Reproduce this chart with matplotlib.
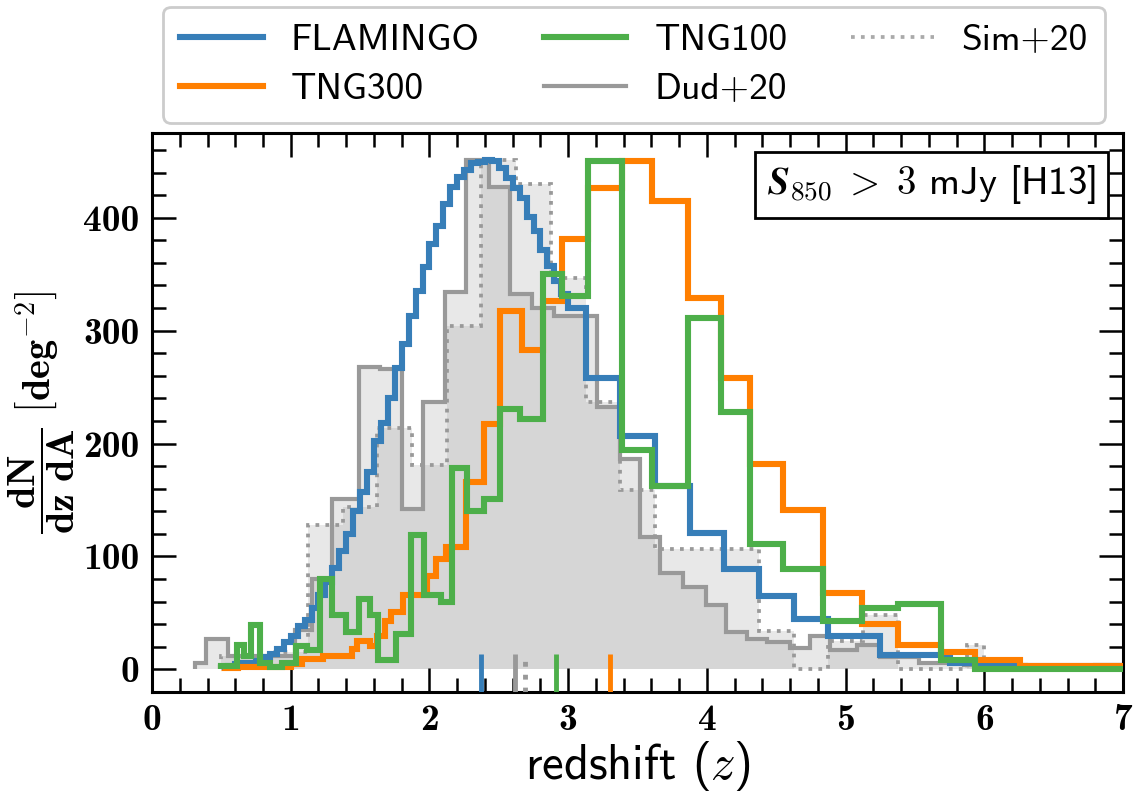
import matplotlib
matplotlib.use("Agg")
import matplotlib.pyplot as plt
from matplotlib.lines import Line2D

plt.rcParams["mathtext.fontset"] = "cm"
plt.rcParams["font.family"] = ["cmss10", "DejaVu Sans"]
plt.rcParams["axes.unicode_minus"] = False

# ---- data (redshift bin edges, dN/dz/dA) ----
flamingo_edges = [0.50, 0.55, 0.60, 0.65, 0.70, 0.75, 0.80, 0.85, 0.90, 0.95,
                  1.00, 1.05, 1.10, 1.15, 1.20, 1.25, 1.30, 1.35, 1.40, 1.45,
                  1.50, 1.55, 1.60, 1.65, 1.70, 1.75, 1.80, 1.85, 1.90, 1.95,
                  2.00, 2.05, 2.10, 2.15, 2.20, 2.25, 2.30, 2.35, 2.40, 2.45,
                  2.50, 2.55, 2.60, 2.65, 2.70, 2.75, 2.80, 2.85, 2.90, 2.95,
                  3.00, 3.125, 3.375, 3.625, 3.875, 4.125, 4.375, 4.625, 4.875,
                  5.25, 5.75, 6.25, 7.00]
flamingo_vals = [2, 3, 5, 6, 6, 7, 11, 14, 18, 24,
                 30, 38, 44, 54, 66, 77, 90, 105, 120, 140,
                 157, 175, 202, 218, 240, 267, 288, 313, 335, 356,
                 377, 393, 412, 427, 436, 442, 448, 449, 451, 450,
                 444, 435, 426, 417, 401, 388, 371, 357, 344, 332,
                 320, 258, 207, 162, 121, 89, 65, 45, 30, 13, 6, 3]

tng300_edges = [0.50, 0.62, 1.00, 1.08, 1.23, 1.44, 1.48, 1.57, 1.62, 1.68,
                1.72, 1.81, 1.98, 2.05, 2.12, 2.26, 2.39, 2.51, 2.665, 2.815,
                2.955, 3.145, 3.385, 3.605, 3.865, 4.10, 4.31, 4.55, 4.84, 5.12,
                5.38, 5.69, 5.93, 6.26, 7.00]
tng300_vals = [1, 2, 5, 9, 12, 18, 25, 21, 30, 43,
               51, 66, 83, 98, 108, 166, 217, 317, 283, 326,
               381, 426, 450, 415, 329, 258, 182, 141, 68, 40,
               22, 15, 8, 3]

tng100_edges = [0.50, 0.61, 0.66, 0.71, 0.78, 0.85, 0.94, 1.04, 1.115, 1.21,
                1.30, 1.40, 1.49, 1.57, 1.63, 1.76, 1.87, 1.96, 2.08, 2.16,
                2.27, 2.39, 2.51, 2.655, 2.815, 2.955, 3.145, 3.385, 3.605, 3.865,
                4.10, 4.31, 4.55, 4.84, 5.12, 5.38, 5.69, 5.93, 7.00]
tng100_vals = [3, 22, 12, 39, 6, 2, 6, 21, 17, 80,
               48, 33, 62, 48, 8, 31, 119, 66, 60, 178,
               140, 151, 231, 222, 350, 331, 450, 194, 162, 311,
               228, 111, 89, 43, 54, 58, 8, 0.5]

dud_edges = [0.31, 0.39, 0.55, 1.03, 1.15, 1.30, 1.49, 1.64, 1.80, 1.95,
             2.11, 2.26, 2.43, 2.58, 2.74, 2.90, 3.21, 3.37, 3.52, 3.66,
             3.83, 3.99, 4.14, 4.29, 4.43, 4.60, 4.74, 4.89, 5.08, 5.25,
             5.53, 5.85, 6.30, 6.80, 7.00]
dud_vals = [6, 27, 12, 35, 80, 151, 268, 266, 142, 237,
            334, 451, 427, 332, 320, 313, 232, 186, 117, 85,
            73, 57, 33, 27, 24, 19, 30, 17, 22, 11,
            6, 4, 2, 4]

sim_edges = [0.50, 0.875, 1.125, 1.375, 1.625, 1.875, 2.125, 2.375, 2.625, 2.875,
             3.125, 3.375, 3.625, 4.375, 4.625, 4.875, 5.125, 5.375, 5.875, 6.00]
sim_vals = [12, 15, 128, 144, 214, 181, 304, 451, 430, 347,
            237, 159, 107, 34, 0, 25, 48, 0, 22]

# medians shown as short ticks at the bottom
medians = {"FLAMINGO": 2.37, "TNG300": 3.30, "TNG100": 2.91, "Dud+20": 2.62, "Sim+20": 2.69}

colors = {"FLAMINGO": "#377eb8", "TNG300": "#ff7f00", "TNG100": "#4daf4a",
          "Dud+20": "#999999", "Sim+20": "#999999"}

fig = plt.figure(figsize=(11.44, 7.94), dpi=100)
ax = fig.add_axes([0.1329, 0.1285, 0.8488, 0.704])

# observations: shaded + outline
ax.stairs(dud_vals, dud_edges, fill=True, color="#999999", alpha=0.22, lw=0, zorder=1)
ax.stairs(sim_vals, sim_edges, fill=True, color="#999999", alpha=0.22, lw=0, zorder=1)
ax.stairs(dud_vals, dud_edges, color=colors["Dud+20"], lw=3.0, zorder=2)
ax.stairs(sim_vals, sim_edges, color=colors["Sim+20"], lw=2.7, ls=":", zorder=2)

# simulations
ax.stairs(flamingo_vals, flamingo_edges, color=colors["FLAMINGO"], lw=4.4, zorder=3)
ax.stairs(tng300_vals, tng300_edges, color=colors["TNG300"], lw=4.4, zorder=4)
ax.stairs(tng100_vals, tng100_edges, color=colors["TNG100"], lw=4.4, zorder=5)

for name, zmed in medians.items():
    ax.vlines(zmed, -20, 14, colors=colors[name], lw=3.5,
              linestyles=":" if name == "Sim+20" else "-", zorder=6)

ax.set_xlim(0, 7)
ax.set_ylim(-20, 475)
ax.set_xticks(range(0, 8))
ax.set_yticks([0, 100, 200, 300, 400])
ax.xaxis.set_minor_locator(matplotlib.ticker.MultipleLocator(0.2))
ax.yaxis.set_minor_locator(matplotlib.ticker.MultipleLocator(20))
ax.tick_params(which="both", direction="in", top=True, right=True, width=1.8)
ax.tick_params(which="major", length=17, pad=9, labelsize=27, labelfontfamily="cmb10")
ax.tick_params(which="minor", length=10)
for sp in ax.spines.values():
    sp.set_linewidth(2.2)

ax.set_xlabel(r"redshift ($z$)", fontsize=35, labelpad=1)
ax.set_ylabel(r"$\dfrac{\mathbf{dN}}{\mathbf{dz\ dA}}\ \left[\mathbf{deg}^{\mathbf{-2}}\right]$",
              fontsize=29)
ax.yaxis.set_label_coords(-0.077, 0.5)

ax.text(0.972, 0.946, r"$\boldsymbol{S}_{\mathbf{850}}\;>\;\mathbf{3}$ mJy [H13]",
        transform=ax.transAxes, ha="right", va="top", fontsize=28, zorder=10,
        bbox=dict(boxstyle="square,pad=0.3", fc="white", ec="black", lw=2))

handles = [Line2D([], [], color=colors["FLAMINGO"], lw=4.4),
           Line2D([], [], color=colors["TNG300"], lw=4.4),
           Line2D([], [], color=colors["TNG100"], lw=4.4),
           Line2D([], [], color=colors["Dud+20"], lw=3.0),
           Line2D([], [], color="#aaaaaa", lw=2.7, ls=":")]
labels = ["FLAMINGO", "TNG300", "TNG100", "Dud+20", "Sim+20"]
leg = ax.legend(handles, labels, loc="lower center", bbox_to_anchor=(0.4964, 1.018),
                borderaxespad=0, ncol=3, fontsize=27, handlelength=2.2,
                handletextpad=0.75, columnspacing=1.7, labelspacing=0.42,
                borderpad=0.45, fancybox=True, framealpha=1)
leg.get_frame().set_edgecolor("#cccccc")
leg.get_frame().set_linewidth(2)

fig.savefig("out.png", dpi=100)
